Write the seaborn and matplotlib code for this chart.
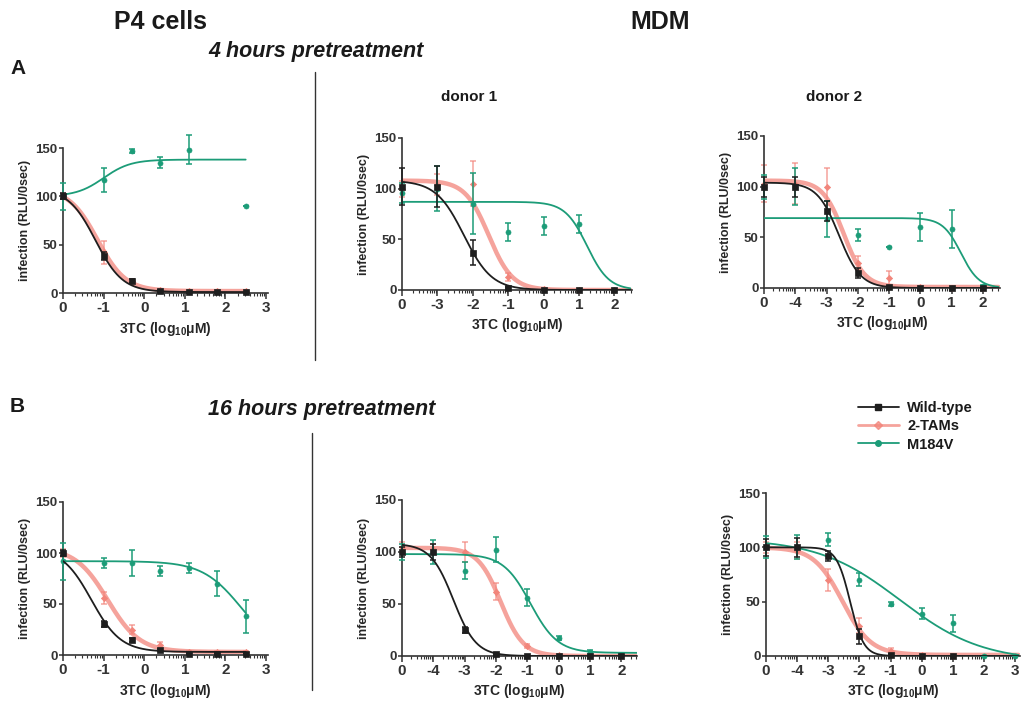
import numpy as np
import pandas as pd
import seaborn as sns
import matplotlib.pyplot as plt
from matplotlib.lines import Line2D

nan = np.nan
W, H = 1024, 705

series = ['Wild-type', '2-TAMs', 'M184V']

# x positions (log10 uM); the first point of each panel is the untreated control
x_p4 = [-2, -1, -0.3, 0.4, 1.1, 1.8, 2.5]
x_d1_4h = [-4, -3, -2, -1, 0, 1, 2]
x_mdm = [-5, -4, -3, -2, -1, 0, 1, 2]
x_d2_16h = [-5, -4, -3, -2, -1, 0, 1, 2, 3]

ticks_p4 = ['0', '-1', '0', '1', '2', '3']
ticks_d1_4h = ['0', '-3', '-2', '-1', '0', '1', '2']
ticks_mdm = ['0', '-4', '-3', '-2', '-1', '0', '1', '2']
ticks_d2_16h = ['0', '-4', '-3', '-2', '-1', '0', '1', '2', '3']

# A - 4 hours, P4 cells
a_p4_wt = [100, 38, 12, 2, 1, 1, 1]
a_p4_wt_err = [3, 4, 2, 1, 0.5, 0.5, 0.5]
a_p4_tam = [100, 42, 12, 3, 2, 2, 2]
a_p4_tam_err = [3, 12, 2, 1, 1, 1, 1]
a_p4_m184v = [100, 117, 147, 135, 148, nan, 90]
a_p4_m184v_err = [14, 12, 2, 6, 15, nan, 0]

# A - 4 hours, MDM donor 1
a_d1_wt = [102, 102, 37, 2, 0, 0, 0]
a_d1_wt_err = [18, 20, 12, 1, 0, 0, 0]
a_d1_tam = [100, 104, 105, 13, 1, 0, 0]
a_d1_tam_err = [8, 10, 22, 4, 1, 0, 0]
a_d1_m184v = [96, 100, 85, 57, 63, 65, 0]
a_d1_m184v_err = [10, 22, 30, 9, 9, 9, 0]

# A - 4 hours, MDM donor 2
a_d2_wt = [100, 100, 76, 15, 1, 0, 0, 0]
a_d2_wt_err = [10, 10, 10, 5, 1, 0, 0, 0]
a_d2_tam = [103, 103, 100, 25, 10, 1, 0, 0]
a_d2_tam_err = [18, 20, 18, 7, 7, 1, 0, 0]
a_d2_m184v = [100, 100, 68, 52, 40, 60, 58, 2]
a_d2_m184v_err = [12, 18, 18, 6, 0, 14, 19, 1]

# B - 16 hours, P4 cells
b_p4_wt = [100, 30, 15, 5, 1, 1, 1]
b_p4_wt_err = [3, 3, 2, 1, 0.5, 0.5, 0.5]
b_p4_tam = [100, 56, 25, 10, 3, 3, 3]
b_p4_tam_err = [4, 6, 4, 3, 1, 1, 1]
b_p4_m184v = [92, 90, 90, 82, 85, 70, 38]
b_p4_m184v_err = [18, 5, 13, 5, 5, 12, 16]

# B - 16 hours, MDM donor 1
b_d1_wt = [100, 100, 25, 2, 0, 0, 0, 0]
b_d1_wt_err = [5, 8, 3, 1, 0, 0, 0, 0]
b_d1_tam = [105, 103, 100, 62, 10, 1, 0, 0]
b_d1_tam_err = [5, 5, 10, 8, 2, 1, 0, 0]
b_d1_m184v = [100, 100, 82, 102, 56, 17, 4, 1]
b_d1_m184v_err = [8, 12, 8, 12, 8, 2, 2, 1]

# B - 16 hours, MDM donor 2
b_d2_wt = [100, 100, 92, 18, 1, 0, 0, nan, nan]
b_d2_wt_err = [8, 9, 5, 7, 1, 0, 0, nan, nan]
b_d2_tam = [100, 97, 70, 28, 5, 1, 0, nan, nan]
b_d2_tam_err = [5, 8, 10, 7, 2, 1, 0, nan, nan]
b_d2_m184v = [100, 100, 107, 70, 48, 39, 30, 0, 0]
b_d2_m184v_err = [10, 11, 6, 6, 2, 5, 8, 0, 0]

# fitted dose-response curves: (left plateau, right plateau, logIC50, hill)
a_p4_fit = [(108, 1, -1.2, 1.3), (108, 2, -1.15, 1.25), (100, 138, -1.0, 1.3)]
a_d1_fit = [(108, 0, -2.25, 1.1), (108, 0, -1.55, 1.3), (87, 0, 1.23, 1.4)]
a_d2_fit = [(104, 0, -2.6, 1.25), (106, 1, -2.45, 1.3), (69, 0, 1.3, 1.5)]
b_p4_fit = [(105, 3, -1.3, 1.2), (105, 3, -0.9, 1.1), (92, 0, 2.4, 0.9)]
b_d1_fit = [(108, 0, -3.36, 1.2), (104, 0, -1.85, 1.2), (98, 3, -0.9, 1.0)]
b_d2_fit = [(100, 0, -2.3, 2.0), (100, 1, -2.55, 0.95), (108, -5, -0.7, 0.33)]

colors = {'Wild-type': '#1e1e1e', '2-TAMs': '#f2857b', 'M184V': '#1c9c78'}
markers = {'Wild-type': 's', '2-TAMs': 'D', 'M184V': 'o'}
msize = {'Wild-type': 18, '2-TAMs': 10, 'M184V': 13}
lwidth = {'Wild-type': 1.3, '2-TAMs': 3.2, 'M184V': 1.3}
lalpha = {'Wild-type': 1.0, '2-TAMs': 0.75, 'M184V': 1.0}
zorders = {'2-TAMs': 2, 'M184V': 3, 'Wild-type': 4}

panels = [
    dict(rect=(63, 268, 148, 293), x=x_p4, ticks=ticks_p4, xlim=(-2, 3.05), span=(-2, 2.5),
         data=[(a_p4_wt, a_p4_wt_err), (a_p4_tam, a_p4_tam_err), (a_p4_m184v, a_p4_m184v_err)],
         fit=a_p4_fit),
    dict(rect=(402, 632, 138, 290), x=x_d1_4h, ticks=ticks_d1_4h, xlim=(-4, 2.5), span=(-4, 2.45),
         data=[(a_d1_wt, a_d1_wt_err), (a_d1_tam, a_d1_tam_err), (a_d1_m184v, a_d1_m184v_err)],
         fit=a_d1_fit),
    dict(rect=(764, 1000, 136, 288), x=x_mdm, ticks=ticks_mdm, xlim=(-5, 2.55), span=(-5, 2.5),
         data=[(a_d2_wt, a_d2_wt_err), (a_d2_tam, a_d2_tam_err), (a_d2_m184v, a_d2_m184v_err)],
         fit=a_d2_fit),
    dict(rect=(63, 268, 502, 655), x=x_p4, ticks=ticks_p4, xlim=(-2, 3.05), span=(-2, 2.5),
         data=[(b_p4_wt, b_p4_wt_err), (b_p4_tam, b_p4_tam_err), (b_p4_m184v, b_p4_m184v_err)],
         fit=b_p4_fit),
    dict(rect=(402, 637, 500, 656), x=x_mdm, ticks=ticks_mdm, xlim=(-5, 2.5), span=(-5, 2.5),
         data=[(b_d1_wt, b_d1_wt_err), (b_d1_tam, b_d1_tam_err), (b_d1_m184v, b_d1_m184v_err)],
         fit=b_d1_fit),
    dict(rect=(766, 1020, 493, 656), x=x_d2_16h, ticks=ticks_d2_16h, xlim=(-5, 3.15), span=(-5, 3.1),
         data=[(b_d2_wt, b_d2_wt_err), (b_d2_tam, b_d2_tam_err), (b_d2_m184v, b_d2_m184v_err)],
         fit=b_d2_fit),
]


def px_rect(left, right, top, bottom):
    return [left / W, 1 - bottom / H, (right - left) / W, (bottom - top) / H]


def dose_response(x, left, right, logic50, hill):
    return right + (left - right) / (1 + 10 ** (hill * (x - logic50)))


sns.set_style('ticks')
plt.rcParams['font.family'] = ['Liberation Sans', 'DejaVu Sans']
plt.rcParams['font.weight'] = 'bold'
plt.rcParams['mathtext.fontset'] = 'custom'
plt.rcParams['mathtext.rm'] = 'Liberation Sans:bold'
plt.rcParams['mathtext.bf'] = 'Liberation Sans:bold'
plt.rcParams['axes.linewidth'] = 1.2
plt.rcParams['text.color'] = '#1a1a1a'
plt.rcParams['xtick.color'] = '#333333'
plt.rcParams['ytick.color'] = '#333333'
plt.rcParams['axes.edgecolor'] = '#333333'

fig = plt.figure(figsize=(W / 100, H / 100), dpi=100)

for p in panels:
    ax = fig.add_axes(px_rect(*p['rect']))
    xs = np.array(p['x'], dtype=float)
    grid = np.linspace(p['span'][0], p['span'][1], 300)
    for s, (mean, err), params in zip(series, p['data'], p['fit']):
        mean = np.array(mean, dtype=float)
        err = np.array(err, dtype=float)
        curve = pd.DataFrame({'x': grid, 'y': dose_response(grid, *params)})
        sns.lineplot(data=curve, x='x', y='y', color=colors[s], lw=lwidth[s],
                     alpha=lalpha[s], zorder=zorders[s], ax=ax)
        ax.errorbar(xs, mean, yerr=err, fmt='none', ecolor=colors[s], elinewidth=1.1,
                    capsize=2, capthick=1.1, alpha=lalpha[s], zorder=zorders[s], clip_on=False)
        pts = pd.DataFrame({'x': xs, 'y': mean}).dropna()
        sns.scatterplot(data=pts, x='x', y='y', color=colors[s], marker=markers[s],
                        s=msize[s], edgecolor=colors[s], linewidth=0.5,
                        zorder=zorders[s] + 0.5, clip_on=False, ax=ax)
    ax.set_xlim(*p['xlim'])
    ax.set_ylim(0, 150)
    tick_pos = np.arange(len(p['ticks'])) + p['x'][0]
    ax.set_xticks(tick_pos)
    ax.set_xticklabels(p['ticks'])
    minor = [k + np.log10(m) for k in range(int(tick_pos[0]), int(tick_pos[-1]) + 1)
             for m in range(2, 10)]
    minor = [m for m in minor if m < p['xlim'][1]]
    ax.set_xticks(minor, minor=True)
    ax.set_yticks([0, 50, 100, 150])
    ax.tick_params(axis='x', which='major', length=4, width=1.1, labelsize=11, pad=2)
    ax.tick_params(axis='x', which='minor', length=2, width=0.8)
    ax.tick_params(axis='y', length=3, width=1.1, labelsize=9.5, pad=1)
    ax.set_xlabel('3TC (log$_{10}$μM)', fontsize=10, fontweight='bold', labelpad=3)
    ax.set_ylabel('infection (RLU/0sec)', fontsize=9, fontweight='bold', labelpad=3)
    sns.despine(ax=ax)


def ftext(x, y, s, **kw):
    fig.text(x / W, 1 - y / H, s, ha='center', va='center', **kw)


ftext(160, 22, 'P4 cells', fontsize=18, fontweight='bold')
ftext(660, 22, 'MDM', fontsize=18, fontweight='bold')
ftext(18, 68, 'A', fontsize=15, fontweight='bold')
ftext(17, 406, 'B', fontsize=15, fontweight='bold')
ftext(316, 52, '4 hours pretreatment', fontsize=15.5, fontweight='bold', style='italic')
ftext(322, 410, '16 hours pretreatment', fontsize=15.5, fontweight='bold', style='italic')
ftext(469, 97, 'donor 1', fontsize=11, fontweight='bold')
ftext(834, 97, 'donor 2', fontsize=11, fontweight='bold')

# divider lines between P4 and MDM panels
fig.add_artist(Line2D([315 / W, 315 / W], [1 - 72 / H, 1 - 360 / H], color='#333333', lw=1))
fig.add_artist(Line2D([312 / W, 312 / W], [1 - 433 / H, 1 - 690 / H], color='#333333', lw=1))

handles = [Line2D([], [], color=colors[s], lw=lwidth[s] if s != '2-TAMs' else 2,
                  alpha=lalpha[s], marker=markers[s], markersize=4) for s in series]
fig.legend(handles, series, loc='upper left', bbox_to_anchor=(852 / W, 1 - 395 / H),
           frameon=False, fontsize=10.5, handlelength=2.8, labelspacing=0.3,
           handletextpad=0.6, borderaxespad=0)

fig.savefig('out.png', dpi=100)
